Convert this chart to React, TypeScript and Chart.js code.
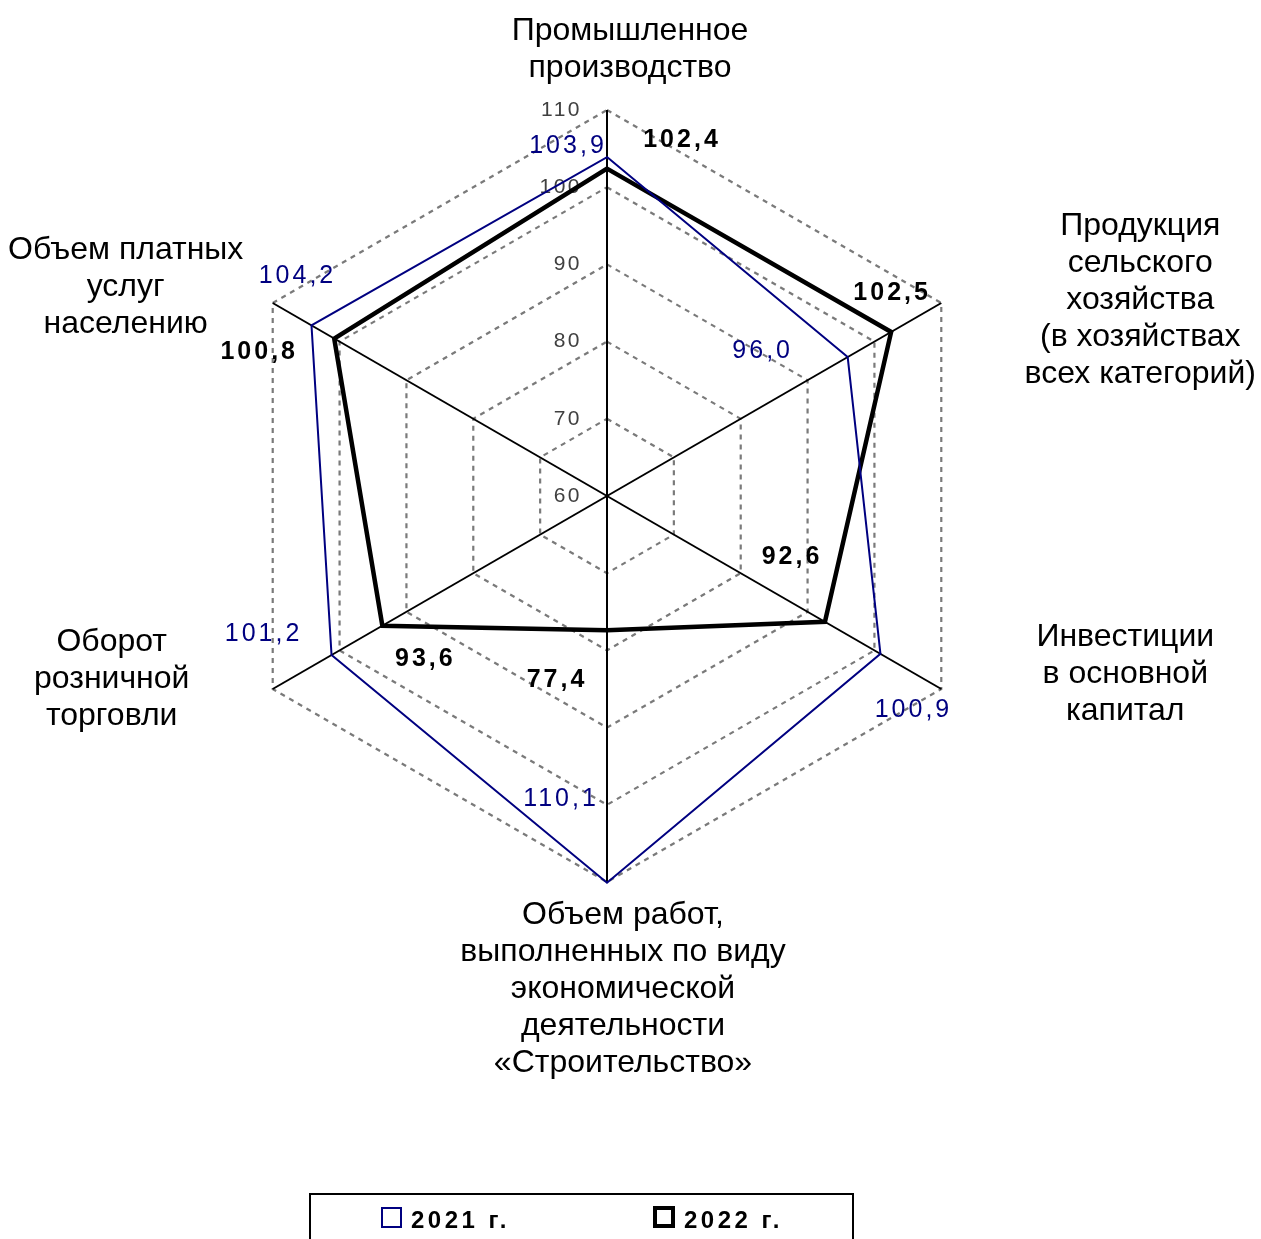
import React, { useEffect, useRef } from 'react';
import { Chart, registerables } from 'chart.js';

Chart.register(...registerables);

// ---- data ----
const CATEGORIES: string[][] = [
  ['Промышленное', 'производство'],
  ['Продукция', 'сельского', 'хозяйства', '(в хозяйствах', 'всех категорий)'],
  ['Инвестиции', 'в основной', 'капитал'],
  ['Объем работ,', 'выполненных по виду', 'экономической', 'деятельности', '«Строительство»'],
  ['Оборот', 'розничной', 'торговли'],
  ['Объем платных', 'услуг', 'населению'],
];
const SERIES_2021 = [103.9, 96.0, 100.9, 110.1, 101.2, 104.2];
const SERIES_2022 = [102.4, 102.5, 92.6, 77.4, 93.6, 100.8];
const SERIES_NAMES = ['2021 г.', '2022 г.'];
const TICK_VALUES = [60, 70, 80, 90, 100, 110];
const SCALE_MIN = 60;
const SCALE_MAX = 110;
const SCALE_STEP = 10;

// ---- styles / layout ----
const NAVY = '#000080';
const FONT = '"Liberation Sans", Arial, sans-serif';
const W = 1261;
const H = 1239;

// label offsets relative to data points (px)
const VALUE_OFFSETS_2021 = [[-39, -11], [-85, -6], [33, 56], [-46, -84], [-68, -21], [-14, -49]];
const VALUE_OFFSETS_2022 = [[75, -29], [1, -39], [-33, -65], [-50, 50], [43, 33], [-75, 14]];
// category label offsets relative to the outer vertex (first line centre)
const CAT_OFFSETS = [[23, -79], [199, -77], [184, -52], [16, 33], [-161, -47], [-147, -53]];
const CAT_LINE_H = 37;

const fmt = (v: number) => v.toFixed(1).replace('.', ',');

const labelsPlugin = {
  id: 'customLabels',
  beforeDatasetsDraw(chart: any) {
    const ctx = chart.ctx as CanvasRenderingContext2D;
    const scale = chart.scales.r;
    ctx.save();
    ctx.font = `21px ${FONT}`;
    (ctx as any).letterSpacing = '2.5px';
    ctx.fillStyle = '#404040';
    ctx.textAlign = 'right';
    ctx.textBaseline = 'middle';
    TICK_VALUES.forEach((v) => {
      const p = scale.getPointPositionForValue(0, v);
      ctx.fillText(String(v), p.x - 25, p.y);
    });
    ctx.restore();
  },
  afterDraw(chart: any) {
    const ctx = chart.ctx as CanvasRenderingContext2D;
    const scale = chart.scales.r;
    ctx.save();
    // category labels
    ctx.font = `32px ${FONT}`;
    (ctx as any).letterSpacing = '0px';
    ctx.fillStyle = '#000';
    ctx.textAlign = 'center';
    ctx.textBaseline = 'middle';
    CATEGORIES.forEach((lines, i) => {
      const p = scale.getPointPositionForValue(i, SCALE_MAX);
      const [dx, dy] = CAT_OFFSETS[i];
      lines.forEach((ln, k) => {
        ctx.fillText(ln, p.x + dx, p.y + dy + k * CAT_LINE_H);
      });
    });

    // value labels
    const drawVals = (idx: number, offs: number[][], color: string, bold: boolean) => {
      const ds = chart.data.datasets[idx];
      ctx.font = `${bold ? 'bold ' : ''}25px ${FONT}`;
      (ctx as any).letterSpacing = '3px';
      ctx.fillStyle = color;
      ds.data.forEach((v: number, i: number) => {
        const p = scale.getPointPositionForValue(i, v);
        ctx.fillText(fmt(v), p.x + offs[i][0], p.y + offs[i][1]);
      });
    };
    drawVals(0, VALUE_OFFSETS_2021, NAVY, false);
    drawVals(1, VALUE_OFFSETS_2022, '#000', true);

    // legend
    ctx.strokeStyle = '#000';
    ctx.lineWidth = 2;
    ctx.strokeRect(310, 1194, 543, 70);
    ctx.font = `bold 24px ${FONT}`;
    (ctx as any).letterSpacing = '3.5px';
    ctx.textAlign = 'left';
    ctx.textBaseline = 'middle';
    const items = [
      { x: 382, box: 19, lw: 2, color: NAVY, text: SERIES_NAMES[0] },
      { x: 655, box: 18, lw: 4, color: '#000', text: SERIES_NAMES[1] },
    ];
    items.forEach((it) => {
      ctx.strokeStyle = it.color;
      ctx.lineWidth = it.lw;
      ctx.strokeRect(it.x, 1208, it.box, it.box);
      ctx.fillStyle = '#000';
      ctx.fillText(it.text, it.x + 29, 1221);
    });
    ctx.restore();
  },
};

export default function App() {
  const ref = useRef<HTMLCanvasElement | null>(null);
  useEffect(() => {
    if (!ref.current) return;
    const chart = new Chart(ref.current, {
      type: 'radar',
      data: {
        labels: CATEGORIES,
        datasets: [
          {
            label: SERIES_NAMES[0],
            data: SERIES_2021,
            borderColor: NAVY,
            borderWidth: 2,
            pointRadius: 0,
            fill: false,
            tension: 0,
          },
          {
            label: SERIES_NAMES[1],
            data: SERIES_2022,
            borderColor: '#000',
            borderWidth: 4.5,
            pointRadius: 0,
            fill: false,
            tension: 0,
          },
        ],
      },
      options: {
        responsive: false,
        animation: false,
        devicePixelRatio: 1,
        layout: { padding: { left: 221, right: 268, top: 110, bottom: 357 } },
        plugins: { legend: { display: false }, tooltip: { enabled: false } },
        elements: { line: { borderJoinStyle: 'miter' } },
        scales: {
          r: {
            min: SCALE_MIN,
            max: SCALE_MAX,
            ticks: { display: false, stepSize: SCALE_STEP },
            pointLabels: { display: false },
            grid: { color: '#7a7a7a', lineWidth: 2.2 },
            border: { dash: [5, 5] },
            angleLines: { color: '#000', lineWidth: 2 },
          },
        },
      },
      plugins: [labelsPlugin],
    } as any);
    return () => chart.destroy();
  }, []);
  return (
    <div style={{ position: 'fixed', left: 0, top: 0, width: W, height: H, background: '#fff' }}>
      <canvas ref={ref} width={W} height={H} style={{ width: W, height: H, display: 'block' }} />
    </div>
  );
}
